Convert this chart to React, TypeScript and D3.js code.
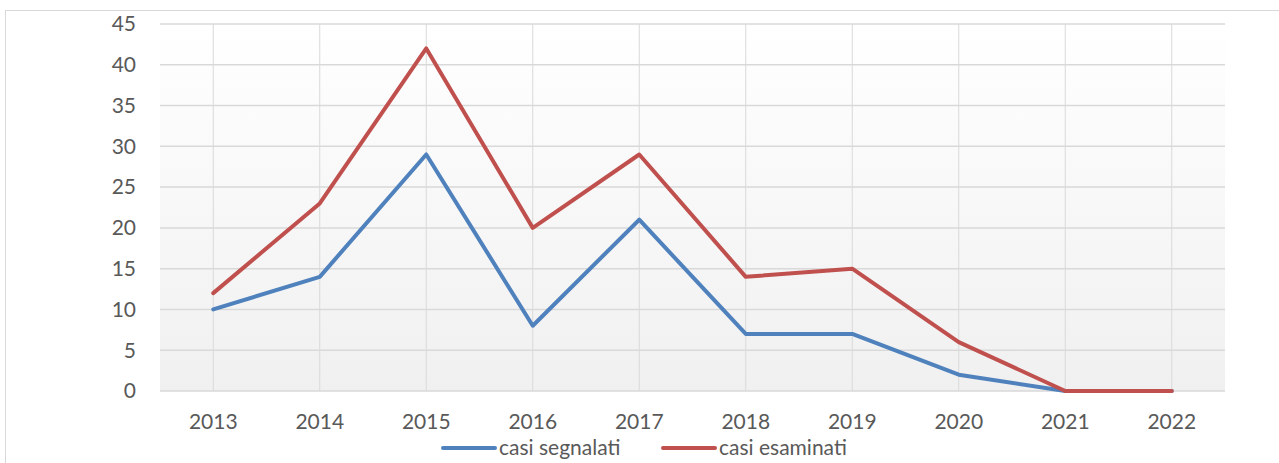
import React, { useEffect, useRef } from 'react';
import * as d3 from 'd3';

const years = ['2013', '2014', '2015', '2016', '2017', '2018', '2019', '2020', '2021', '2022'];
const segnalati = [10, 14, 29, 8, 21, 7, 7, 2, 0, 0];
const esaminati = [12, 23, 42, 20, 29, 14, 15, 6, 0, 0];
const yTicks = [0, 5, 10, 15, 20, 25, 30, 35, 40, 45];

const App = () => {
  const svgRef = useRef<SVGSVGElement>(null);

  useEffect(() => {
    const svg = d3.select(svgRef.current);
    svg.selectAll('*').remove();

    const width = 1279;
    const height = 463;
    const left = 160, right = 1225, top = 24, bottom = 391;
    const font = 'Lato, "Open Sans", sans-serif';
    const fs = 21;

    svg.attr('width', width).attr('height', height);

    // outer border
    svg.append('rect')
      .attr('x', 5.5).attr('y', 10.5)
      .attr('width', 1300).attr('height', 500)
      .attr('fill', 'white').attr('stroke', '#d9d9d9');

    const defs = svg.append('defs');
    const grad = defs.append('linearGradient').attr('id', 'bg').attr('x1', 0).attr('y1', 0).attr('x2', 0).attr('y2', 1);
    grad.append('stop').attr('offset', '0%').attr('stop-color', '#ffffff');
    grad.append('stop').attr('offset', '100%').attr('stop-color', '#f0f0f0');

    const x = d3.scaleBand().domain(years).range([left, right]);
    const y = d3.scaleLinear().domain([0, 45]).range([bottom, top]);
    const cx = (d: string) => (x(d) as number) + x.bandwidth() / 2;

    svg.append('rect')
      .attr('x', left).attr('y', top)
      .attr('width', right - left).attr('height', bottom - top)
      .attr('fill', 'url(#bg)');

    // horizontal grid
    svg.append('g').selectAll('line').data(yTicks).join('line')
      .attr('x1', left).attr('x2', right)
      .attr('y1', d => y(d)).attr('y2', d => y(d))
      .attr('stroke', '#d9d9d9').attr('stroke-width', 1.5);

    // vertical grid
    svg.append('g').selectAll('line').data(years).join('line')
      .attr('x1', d => cx(d)).attr('x2', d => cx(d))
      .attr('y1', top).attr('y2', bottom)
      .attr('stroke', '#d9d9d9').attr('stroke-width', 1);

    // y labels
    svg.append('g').selectAll('text').data(yTicks).join('text')
      .attr('x', 136).attr('y', d => y(d))
      .attr('dy', '0.35em')
      .attr('text-anchor', 'end')
      .attr('font-family', font).attr('font-size', fs)
      .attr('fill', '#595959')
      .text(d => d);

    // x labels
    svg.append('g').selectAll('text').data(yTicks.length ? years : []).join('text')
      .attr('x', d => cx(d)).attr('y', 422)
      .attr('dy', '0.35em')
      .attr('text-anchor', 'middle')
      .attr('font-family', font).attr('font-size', fs)
      .attr('fill', '#595959')
      .text(d => d);

    const line = d3.line<number>()
      .x((_, i) => cx(years[i]))
      .y(d => y(d));

    const series = [
      { name: 'casi segnalati', values: segnalati, color: '#4f81bd' },
      { name: 'casi esaminati', values: esaminati, color: '#c0504d' },
    ];

    series.forEach(s => {
      svg.append('path')
        .datum(s.values)
        .attr('fill', 'none')
        .attr('stroke', s.color)
        .attr('stroke-width', 4)
        .attr('stroke-linejoin', 'round')
        .attr('stroke-linecap', 'round')
        .attr('d', line);
    });

    // legend
    const legendX = [443, 663];
    series.forEach((s, i) => {
      const g = svg.append('g').attr('transform', `translate(${legendX[i]},448)`);
      g.append('line').attr('x1', 0).attr('x2', 52).attr('y1', 0).attr('y2', 0)
        .attr('stroke', s.color).attr('stroke-width', 4).attr('stroke-linecap', 'round');
      g.append('text').attr('x', 56).attr('y', 0).attr('dy', '0.35em')
        .attr('font-family', font).attr('font-size', fs).attr('fill', '#595959')
        .text(s.name);
    });
  }, []);

  return <svg ref={svgRef} style={{ display: 'block', position: 'absolute', left: 0, top: 0 }}></svg>;
};

export default App;
